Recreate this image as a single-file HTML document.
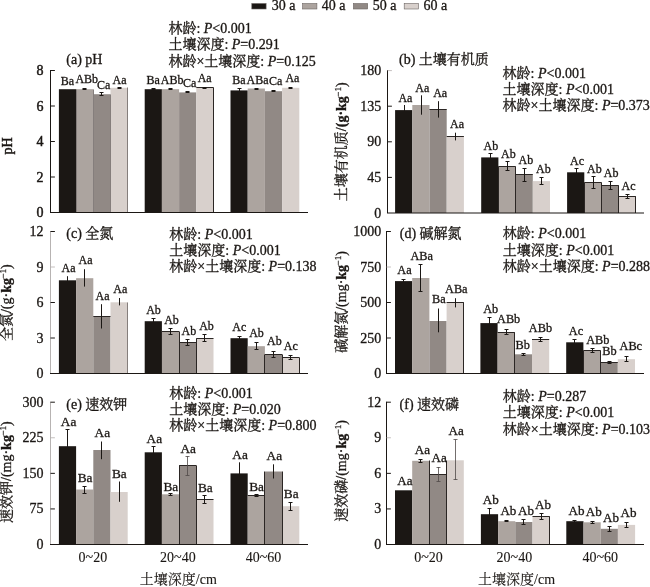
<!DOCTYPE html>
<html lang="zh"><head><meta charset="utf-8"><title>figure</title>
<style>html,body{margin:0;padding:0;background:#fff}svg{display:block}</style></head>
<body>
<svg width="650" height="587" viewBox="0 0 650 587" font-family='"Liberation Serif","Noto Serif CJK SC",serif' fill="#1b1714">
<rect width="650" height="587" fill="#fff" stroke="none"/>
<g stroke="#1b1714" stroke-width="0.3">
<rect x="251.8" y="3.5" width="14.3" height="5.5" fill="#1b1714" stroke="#6b6462" stroke-width="0.6"/>
<text x="271.8" y="9.9" font-size="14">30 a</text>
<rect x="302.6" y="3.5" width="14.3" height="5.5" fill="#aca49f" stroke="#6b6462" stroke-width="0.6"/>
<text x="321.8" y="9.9" font-size="14">40 a</text>
<rect x="353.4" y="3.5" width="14.3" height="5.5" fill="#918985" stroke="#6b6462" stroke-width="0.6"/>
<text x="372.8" y="9.9" font-size="14">50 a</text>
<rect x="404.2" y="3.5" width="14.3" height="5.5" fill="#d8d0cc" stroke="#6b6462" stroke-width="0.6"/>
<text x="423.6" y="9.9" font-size="14">60 a</text>
<g id="panel-a">
<rect x="58.9" y="89.2" width="17.2" height="123.3" fill="#1b1714" stroke="none"/>
<rect x="76.1" y="89.2" width="17.2" height="123.3" fill="#aca49f" stroke="none"/>
<rect x="93.3" y="94.2" width="17.2" height="118.3" fill="#918985" stroke="none"/>
<rect x="110.5" y="87.8" width="17.2" height="124.7" fill="#d8d0cc" stroke="none"/>
<rect x="144.7" y="89.2" width="17.2" height="123.3" fill="#1b1714" stroke="none"/>
<rect x="161.9" y="89.2" width="17.2" height="123.3" fill="#aca49f" stroke="none"/>
<rect x="179.1" y="92.4" width="17.2" height="120.1" fill="#918985" stroke="none"/>
<rect x="196.3" y="87.8" width="17.2" height="124.7" fill="#d8d0cc" stroke="none"/>
<rect x="230.5" y="90.4" width="17.2" height="122.1" fill="#1b1714" stroke="none"/>
<rect x="247.7" y="88.5" width="17.2" height="124" fill="#aca49f" stroke="none"/>
<rect x="264.9" y="91.2" width="17.2" height="121.3" fill="#918985" stroke="none"/>
<rect x="282.1" y="87.8" width="17.2" height="124.7" fill="#d8d0cc" stroke="none"/>
<path d="M196.3 87.5H213.5M213.5 87.5V212.5" stroke="#2b2624" stroke-width="1" fill="none"/>
<path d="M76.5 89.5V212.5M93.5 89.5V212.5M93.5 94.5V212.5M110.5 94.5V212.5M127.5 87.5V212.5" stroke="#857e7c" stroke-width="1" fill="none"/>
<path d="M84.5 88.4V89.4M82.5 88.5h4M82.5 89.5h4M101.5 92.2V95.8M99.5 92.5h4M99.5 95.5h4M119.5 87.3V88.3M117.5 87.5h4M117.5 88.5h4M153.5 88.5V89.5M151.5 88.5h4M151.5 89.5h4M170.5 88.5V89.5M168.5 88.5h4M168.5 89.5h4M187.5 91.6V92.8M185.5 91.5h4M185.5 92.5h4M204.5 87.3V88.3M202.5 87.5h4M202.5 88.5h4M239.5 88V92.5M237.5 88.5h4M237.5 92.5h4M256.5 88V89M254.5 88.5h4M254.5 89.5h4M273.5 90.6V91.8M271.5 90.5h4M271.5 91.5h4M290.5 87.3V88.3M288.5 87.5h4M288.5 88.5h4" stroke="#1b1714" stroke-width="1" fill="none"/>
<g font-size="12"><text x="60.8" y="85">Ba</text>
<text x="75.4" y="83.2">ABb</text>
<text x="96.9" y="88.8">Ca</text>
<text x="112.6" y="83.9">Aa</text>
<text x="146.6" y="84.2">Ba</text>
<text x="160.8" y="84.2">ABb</text>
<text x="183" y="86.5">Ca</text>
<text x="197.7" y="81.9">Aa</text>
<text x="232.3" y="83.5">Ba</text>
<text x="246.5" y="83.5">ABa</text>
<text x="268.9" y="84.7">Ca</text>
<text x="285.4" y="82.4">Aa</text></g>
<path d="M50.5 70V212.5" stroke="#1b1714" stroke-width="1" fill="none"/>
<path d="M50 212.5H308" stroke="#1b1714" stroke-width="1.2" fill="none"/>
<path d="M50.5 177h4.4M50.5 141.5h4.4M50.5 106h4.4M50.5 70.5h4.4" stroke="#1b1714" stroke-width="1" fill="none"/>
<g font-size="14" text-anchor="end" stroke-width="0.45"><text x="43.6" y="217">0</text><text x="43.6" y="181.5">2</text><text x="43.6" y="146">4</text><text x="43.6" y="110.5">6</text><text x="43.6" y="75">8</text></g>
<text x="66.3" y="64.3" font-size="14">(a) pH</text>
<text x="168.4" y="32.5" font-size="14">林龄: <tspan font-style="italic">P</tspan>&lt;0.001</text>
<text x="168.4" y="48.8" font-size="14">土壤深度: <tspan font-style="italic">P</tspan>=0.291</text>
<text x="168.4" y="65.7" font-size="14">林龄×土壤深度: <tspan font-style="italic">P</tspan>=0.125</text>
<text transform="translate(12.0 146) rotate(-90)" font-size="14" text-anchor="middle" stroke-width="0.45">pH</text>
</g>
<g id="panel-b">
<rect x="395.1" y="110.1" width="17.2" height="102.9" fill="#1b1714" stroke="none"/>
<rect x="412.3" y="105" width="17.2" height="108" fill="#aca49f" stroke="none"/>
<rect x="429.5" y="109.3" width="17.2" height="103.7" fill="#918985" stroke="none"/>
<rect x="446.7" y="136.2" width="17.2" height="76.8" fill="#d8d0cc" stroke="none"/>
<rect x="481.2" y="157.4" width="17.2" height="55.6" fill="#1b1714" stroke="none"/>
<rect x="498.4" y="166.5" width="17.2" height="46.5" fill="#aca49f" stroke="none"/>
<rect x="515.6" y="174.6" width="17.2" height="38.4" fill="#918985" stroke="none"/>
<rect x="532.8" y="181.1" width="17.2" height="31.9" fill="#d8d0cc" stroke="none"/>
<rect x="567.1" y="172.3" width="17.2" height="40.7" fill="#1b1714" stroke="none"/>
<rect x="584.3" y="182.6" width="17.2" height="30.4" fill="#aca49f" stroke="none"/>
<rect x="601.5" y="185.4" width="17.2" height="27.6" fill="#918985" stroke="none"/>
<rect x="618.7" y="196.5" width="17.2" height="16.5" fill="#d8d0cc" stroke="none"/>
<path d="M429.5 109.5H446.7M446.7 136.5H463.9M498.4 166.5H515.6M498.5 166.5V213M515.5 166.5V213M515.6 174.5H532.8M515.5 174.5V213M584.3 182.5H601.5M584.5 182.5V213M601.5 182.5V213M601.5 185.5H618.7M601.5 185.5V213M618.5 185.5V213M618.7 196.5H635.9M618.5 196.5V213M635.5 196.5V213" stroke="#2b2624" stroke-width="1" fill="none"/>
<path d="M404.5 105V115M421.5 95.3V114.7M438.5 101.2V117.6M455.5 132.7V140.4M490.5 153V161.8M488.5 153.5h4M488.5 161.5h4M507.5 161.5V170.8M505.5 161.5h4M505.5 170.5h4M524.5 168.2V181.5M522.5 168.5h4M522.5 181.5h4M541.5 177.7V184.6M539.5 177.5h4M539.5 184.5h4M576.5 168.2V176.4M574.5 168.5h4M574.5 176.5h4M593.5 176.2V188.5M591.5 176.5h4M591.5 188.5h4M610.5 181.5V189.5M608.5 181.5h4M608.5 189.5h4M627.5 194.6V198.5M625.5 194.5h4M625.5 198.5h4" stroke="#1b1714" stroke-width="1" fill="none"/>
<g font-size="12"><text x="398.4" y="101.6">Aa</text>
<text x="415.3" y="91.6">Aa</text>
<text x="433.2" y="96.8">Aa</text>
<text x="450" y="128">Aa</text>
<text x="483.5" y="149.7">Ab</text>
<text x="501" y="157.7">Ab</text>
<text x="518.5" y="163.5">Ab</text>
<text x="536" y="172.8">Ab</text>
<text x="570" y="164.6">Ac</text>
<text x="587" y="172.6">Ab</text>
<text x="603.8" y="177">Ab</text>
<text x="621.5" y="189.7">Ac</text></g>
<path d="M387.5 70.1V213" stroke="#1b1714" stroke-width="1" fill="none"/>
<path d="M387 213H644" stroke="#1b1714" stroke-width="1.2" fill="none"/>
<path d="M387.5 177.4h4.4M387.5 141.8h4.4M387.5 106.2h4.4" stroke="#1b1714" stroke-width="1" fill="none"/>
<path d="M387.5 70.6h4.4" stroke="#b5afad" stroke-width="0.8" fill="none"/>
<g font-size="14" text-anchor="end"><text x="381.3" y="217.5">0</text><text x="381.3" y="181.9">45</text><text x="381.3" y="146.3">90</text><text x="381.3" y="110.7">135</text><text x="381.3" y="75.1">180</text></g>
<text x="399" y="64.0" font-size="14">(b) 土壤有机质</text>
<text x="502.6" y="78.1" font-size="14">林龄: <tspan font-style="italic">P</tspan>&lt;0.001</text>
<text x="502.6" y="94.2" font-size="14">土壤深度: <tspan font-style="italic">P</tspan>&lt;0.001</text>
<text x="502.6" y="110.4" font-size="14">林龄×土壤深度: <tspan font-style="italic">P</tspan>=0.373</text>
<text transform="translate(346.2 141.8) rotate(-90)" font-size="14" text-anchor="middle">土壤有机质/<tspan font-weight="bold">(g·</tspan><tspan font-weight="bold">kg</tspan><tspan font-size="8.5" dy="-5">−1</tspan><tspan dy="5">)</tspan></text>
</g>
<g id="panel-c">
<rect x="58.9" y="280.3" width="17.2" height="93.2" fill="#1b1714" stroke="none"/>
<rect x="76.1" y="278.2" width="17.2" height="95.3" fill="#aca49f" stroke="none"/>
<rect x="93.3" y="316.5" width="17.2" height="57" fill="#918985" stroke="none"/>
<rect x="110.5" y="302.3" width="17.2" height="71.2" fill="#d8d0cc" stroke="none"/>
<rect x="144.7" y="321.2" width="17.2" height="52.3" fill="#1b1714" stroke="none"/>
<rect x="161.9" y="331.2" width="17.2" height="42.3" fill="#aca49f" stroke="none"/>
<rect x="179.1" y="342.6" width="17.2" height="30.9" fill="#918985" stroke="none"/>
<rect x="196.3" y="338.5" width="17.2" height="35" fill="#d8d0cc" stroke="none"/>
<rect x="230.5" y="338.2" width="17.2" height="35.3" fill="#1b1714" stroke="none"/>
<rect x="247.7" y="346.2" width="17.2" height="27.3" fill="#aca49f" stroke="none"/>
<rect x="264.9" y="354.3" width="17.2" height="19.2" fill="#918985" stroke="none"/>
<rect x="282.1" y="357.2" width="17.2" height="16.3" fill="#d8d0cc" stroke="none"/>
<path d="M93.3 316.5H110.5M161.9 331.5H179.1M161.5 331.5V373.5M179.5 331.5V373.5M179.1 342.5H196.3M179.5 342.5V373.5M196.5 342.5V373.5M196.3 338.5H213.5M196.5 338.5V373.5M264.9 354.5H282.1M264.5 354.5V373.5M282.5 354.5V373.5M282.1 357.5H299.3M282.5 357.5V373.5M299.5 357.5V373.5" stroke="#2b2624" stroke-width="1" fill="none"/>
<path d="M127.5 302.5V373.5" stroke="#857e7c" stroke-width="1" fill="none"/>
<path d="M67.5 276.2V284.2M84.5 269.2V286.6M101.5 304.2V328.5M119.5 298V305.4M153.5 318.5V324.6M151.5 318.5h4M151.5 324.5h4M170.5 328.5V334.6M168.5 328.5h4M168.5 334.5h4M187.5 339.5V345.4M185.5 339.5h4M185.5 345.5h4M204.5 334.6V341.5M202.5 334.5h4M202.5 341.5h4M239.5 336.2V340M237.5 336.5h4M237.5 340.5h4M256.5 342.3V349.7M254.5 342.5h4M254.5 349.5h4M273.5 351.2V357.7M271.5 351.5h4M271.5 357.5h4M290.5 355.4V359.5M288.5 355.5h4M288.5 359.5h4" stroke="#1b1714" stroke-width="1" fill="none"/>
<g font-size="12"><text x="61.5" y="271.5">Aa</text>
<text x="78.5" y="264.4">Aa</text>
<text x="95.5" y="299.5">Aa</text>
<text x="113.3" y="293.2">Aa</text>
<text x="146.2" y="313.8">Ab</text>
<text x="164.2" y="323.5">Ab</text>
<text x="181.5" y="334.6">Ab</text>
<text x="199.2" y="329.7">Ab</text>
<text x="232.3" y="330.8">Ac</text>
<text x="249.2" y="336.9">Ab</text>
<text x="267" y="345.4">Ab</text>
<text x="283.8" y="349.7">Ac</text></g>
<path d="M50.5 231V373.5" stroke="#a5a09e" stroke-width="0.8" fill="none"/>
<path d="M50 373.5H308" stroke="#1b1714" stroke-width="1.2" fill="none"/>
<path d="M50.5 338h4.4M50.5 302.5h4.4M50.5 231.5h4.4" stroke="#1b1714" stroke-width="1" fill="none"/>
<path d="M50.5 267h4.4" stroke="#b5afad" stroke-width="0.8" fill="none"/>
<g font-size="14" text-anchor="end"><text x="43.6" y="378">0</text><text x="43.6" y="342.5">3</text><text x="43.6" y="307">6</text><text x="43.6" y="271.5">9</text><text x="43.6" y="236">12</text></g>
<text x="66.3" y="237.8" font-size="14">(c) 全氮</text>
<text x="169.3" y="238.6" font-size="14">林龄: <tspan font-style="italic">P</tspan>&lt;0.001</text>
<text x="169.3" y="254.7" font-size="14">土壤深度: <tspan font-style="italic">P</tspan>&lt;0.001</text>
<text x="169.3" y="270.7" font-size="14">林龄×土壤深度: <tspan font-style="italic">P</tspan>=0.138</text>
<text transform="translate(10.8 302.7) rotate(-90)" font-size="14" text-anchor="middle">全氮/<tspan>(g·</tspan><tspan font-weight="bold">kg</tspan><tspan font-size="8.5" dy="-5">−1</tspan><tspan dy="5">)</tspan></text>
</g>
<g id="panel-d">
<rect x="395" y="281.1" width="17.2" height="92.4" fill="#1b1714" stroke="none"/>
<rect x="412.2" y="278" width="17.2" height="95.5" fill="#aca49f" stroke="none"/>
<rect x="429.4" y="321" width="17.2" height="52.5" fill="#918985" stroke="none"/>
<rect x="446.6" y="302.3" width="17.2" height="71.2" fill="#d8d0cc" stroke="none"/>
<rect x="480.4" y="323.1" width="17.2" height="50.4" fill="#1b1714" stroke="none"/>
<rect x="497.6" y="332.3" width="17.2" height="41.2" fill="#aca49f" stroke="none"/>
<rect x="514.8" y="354.3" width="17.2" height="19.2" fill="#918985" stroke="none"/>
<rect x="532" y="339.5" width="17.2" height="34" fill="#d8d0cc" stroke="none"/>
<rect x="566.2" y="342.3" width="17.2" height="31.2" fill="#1b1714" stroke="none"/>
<rect x="583.4" y="350.8" width="17.2" height="22.7" fill="#aca49f" stroke="none"/>
<rect x="600.6" y="362.6" width="17.2" height="10.9" fill="#918985" stroke="none"/>
<rect x="617.8" y="359.2" width="17.2" height="14.3" fill="#d8d0cc" stroke="none"/>
<path d="M446.6 302.5H463.8M463.5 302.5V373.5M497.6 332.5H514.8M514.5 332.5V373.5M532 339.5H549.2M583.4 350.5H600.6M583.5 350.5V373.5M600.5 350.5V373.5M600.6 362.5H617.8M600.5 362.5V373.5" stroke="#2b2624" stroke-width="1" fill="none"/>
<path d="M403.5 279.2V283M401.5 279.5h4M401.5 283.5h4M420.5 264.3V291.5M418.5 264.5h4M418.5 291.5h4M438.5 308.5V332.3M455.5 298.2V307.4M489.5 317.4V328.8M487.5 317.5h4M487.5 328.5h4M506.5 329.2V334.6M504.5 329.5h4M504.5 334.5h4M523.5 353V355.8M521.5 353.5h4M521.5 355.5h4M540.5 337.4V341.5M538.5 337.5h4M538.5 341.5h4M574.5 339.5V345M572.5 339.5h4M572.5 345.5h4M592.5 348.5V352.3M590.5 348.5h4M590.5 352.5h4M609.5 361.8V363.4M607.5 361.5h4M607.5 363.5h4M626.5 356.2V361.5M624.5 356.5h4M624.5 361.5h4" stroke="#1b1714" stroke-width="1" fill="none"/>
<g font-size="12.3"><text x="397.3" y="274.2">Aa</text>
<text x="410.4" y="259.7">ABa</text>
<text x="432" y="303.4">Ba</text>
<text x="445" y="292.6">ABa</text>
<text x="483.2" y="312.8">Ab</text>
<text x="497" y="322.8">ABb</text>
<text x="515.5" y="348.5">Bb</text>
<text x="528.8" y="332.3">ABb</text>
<text x="568.8" y="334.6">Ac</text>
<text x="586.2" y="343.5">ABb</text>
<text x="602.3" y="354.6">Bb</text>
<text x="619.5" y="350.3">ABc</text></g>
<path d="M386.5 231V373.5" stroke="#1b1714" stroke-width="1" fill="none"/>
<path d="M386 373.5H644" stroke="#1b1714" stroke-width="1.2" fill="none"/>
<path d="M386.5 338h4.4M386.5 302.5h4.4M386.5 231.5h4.4" stroke="#1b1714" stroke-width="1" fill="none"/>
<path d="M386.5 267h4.4" stroke="#b5afad" stroke-width="0.8" fill="none"/>
<g font-size="14" text-anchor="end"><text x="381.3" y="378">0</text><text x="381.3" y="342.5">250</text><text x="381.3" y="307">500</text><text x="381.3" y="271.5">750</text><text x="381.3" y="236">1000</text></g>
<text x="399.8" y="237.5" font-size="14">(d) 碱解氮</text>
<text x="502.8" y="238.1" font-size="14">林龄: <tspan font-style="italic">P</tspan>&lt;0.001</text>
<text x="502.8" y="254.6" font-size="14">土壤深度: <tspan font-style="italic">P</tspan>&lt;0.001</text>
<text x="502.8" y="270.9" font-size="14">林龄×土壤深度: <tspan font-style="italic">P</tspan>=0.288</text>
<text transform="translate(346.2 302) rotate(-90)" font-size="14" text-anchor="middle">碱解氮/<tspan>(mg·</tspan><tspan font-weight="bold">kg</tspan><tspan font-size="8.5" dy="-5">−1</tspan><tspan dy="5">)</tspan></text>
</g>
<g id="panel-e">
<rect x="58.9" y="446.2" width="17.2" height="98.3" fill="#1b1714" stroke="none"/>
<rect x="76.1" y="489.5" width="17.2" height="55" fill="#aca49f" stroke="none"/>
<rect x="93.3" y="450" width="17.2" height="94.5" fill="#918985" stroke="none"/>
<rect x="110.5" y="492" width="17.2" height="52.5" fill="#d8d0cc" stroke="none"/>
<rect x="144.7" y="452.3" width="17.2" height="92.2" fill="#1b1714" stroke="none"/>
<rect x="161.9" y="494.3" width="17.2" height="50.2" fill="#aca49f" stroke="none"/>
<rect x="179.1" y="465.8" width="17.2" height="78.7" fill="#918985" stroke="none"/>
<rect x="196.3" y="499.5" width="17.2" height="45" fill="#d8d0cc" stroke="none"/>
<rect x="230.5" y="473.4" width="17.2" height="71.1" fill="#1b1714" stroke="none"/>
<rect x="247.7" y="495.4" width="17.2" height="49.1" fill="#aca49f" stroke="none"/>
<rect x="264.9" y="471.5" width="17.2" height="73" fill="#918985" stroke="none"/>
<rect x="282.1" y="506.2" width="17.2" height="38.3" fill="#d8d0cc" stroke="none"/>
<path d="M179.1 465.5H196.3M179.5 465.5V544.5M196.5 465.5V544.5M196.3 499.5H213.5M247.7 495.5H264.9M264.5 471.5V544.5M282.5 471.5V544.5" stroke="#2b2624" stroke-width="1" fill="none"/>
<path d="M67.5 429.2V463M65.5 429.5h4M65.5 463.5h4M84.5 486.2V493.5M82.5 486.5h4M82.5 493.5h4M101.5 441.5V459.2M119.5 481.5V501.8M153.5 446.5V458M151.5 446.5h4M151.5 458.5h4M170.5 493.4V495.7M168.5 493.5h4M168.5 495.5h4M204.5 495.4V503.4M202.5 495.5h4M202.5 503.5h4M239.5 462.3V484.5M256.5 494.6V496.2M254.5 494.5h4M254.5 496.5h4M273.5 464.3V478.5M290.5 502.3V510M288.5 502.5h4M288.5 510.5h4" stroke="#1b1714" stroke-width="1" fill="none"/>
<path d="M187.5 456.2V475.4M185.5 456.5h4M185.5 475.5h4" stroke="#4f4947" stroke-width="0.8" fill="none"/>
<g font-size="13.3"><text x="60.8" y="425.7">Aa</text>
<text x="77.7" y="482.3">Ba</text>
<text x="94.6" y="436.9">Aa</text>
<text x="112" y="478.2">Ba</text>
<text x="146.6" y="442.8">Aa</text>
<text x="163.5" y="490.5">Ba</text>
<text x="180.5" y="452.6">Aa</text>
<text x="198" y="491.5">Ba</text>
<text x="232.3" y="459.2">Aa</text>
<text x="249.2" y="490.5">Ba</text>
<text x="266.6" y="460.3">Aa</text>
<text x="283.8" y="498.2">Ba</text></g>
<path d="M50.5 401.7V544.5" stroke="#a5a09e" stroke-width="0.8" fill="none"/>
<path d="M50 544.5H308" stroke="#1b1714" stroke-width="1.2" fill="none"/>
<path d="M50.5 508.93h4.4M50.5 473.35h4.4M50.5 402.2h4.4" stroke="#1b1714" stroke-width="1" fill="none"/>
<path d="M50.5 437.77h4.4" stroke="#b5afad" stroke-width="0.8" fill="none"/>
<g font-size="14" text-anchor="end"><text x="43.6" y="549">0</text><text x="43.6" y="513.42">75</text><text x="43.6" y="477.85">150</text><text x="43.6" y="442.27">225</text><text x="43.6" y="406.7">300</text></g>
<text x="66.3" y="409.2" font-size="14">(e) 速效钾</text>
<text x="169.3" y="397.5" font-size="14">林龄: <tspan font-style="italic">P</tspan>&lt;0.001</text>
<text x="169.3" y="414.1" font-size="14">土壤深度: <tspan font-style="italic">P</tspan>=0.020</text>
<text x="169.3" y="430.2" font-size="14">林龄×土壤深度: <tspan font-style="italic">P</tspan>=0.800</text>
<text transform="translate(10.8 472.2) rotate(-90)" font-size="14" text-anchor="middle">速效钾/<tspan>(mg·</tspan><tspan font-weight="bold">kg</tspan><tspan font-size="8.5" dy="-5">−1</tspan><tspan dy="5">)</tspan></text>
</g>
<g id="panel-f">
<rect x="395" y="490.3" width="17.2" height="54.2" fill="#1b1714" stroke="none"/>
<rect x="412.2" y="460.8" width="17.2" height="83.7" fill="#aca49f" stroke="none"/>
<rect x="429.4" y="474.5" width="17.2" height="70" fill="#918985" stroke="none"/>
<rect x="446.6" y="460.3" width="17.2" height="84.2" fill="#d8d0cc" stroke="none"/>
<rect x="480.9" y="514.2" width="17.2" height="30.3" fill="#1b1714" stroke="none"/>
<rect x="498.1" y="521.2" width="17.2" height="23.3" fill="#aca49f" stroke="none"/>
<rect x="515.3" y="522" width="17.2" height="22.5" fill="#918985" stroke="none"/>
<rect x="532.5" y="516.6" width="17.2" height="27.9" fill="#d8d0cc" stroke="none"/>
<rect x="566.3" y="521.2" width="17.2" height="23.3" fill="#1b1714" stroke="none"/>
<rect x="583.5" y="522.3" width="17.2" height="22.2" fill="#aca49f" stroke="none"/>
<rect x="600.7" y="528.8" width="17.2" height="15.7" fill="#918985" stroke="none"/>
<rect x="617.9" y="524.9" width="17.2" height="19.6" fill="#d8d0cc" stroke="none"/>
<path d="M429.4 474.5H446.6M429.5 460.5V544.5M446.5 460.5V544.5M532.5 516.5H549.7M549.5 516.5V544.5" stroke="#2b2624" stroke-width="1" fill="none"/>
<path d="M420.5 459.2V462.3M418.5 459.5h4M418.5 462.5h4M489.5 508.5V520M487.5 508.5h4M487.5 520.5h4M506.5 520.6V521.4M504.5 520.5h4M504.5 521.5h4M523.5 519.2V524.3M521.5 519.5h4M521.5 524.5h4M541.5 513.5V519.7M539.5 513.5h4M539.5 519.5h4M574.5 520.5V522M572.5 520.5h4M572.5 522.5h4M592.5 521.3V523.3M590.5 521.5h4M590.5 523.5h4M609.5 526.5V531.5M607.5 526.5h4M607.5 531.5h4M626.5 522.3V527.4M624.5 522.5h4M624.5 527.5h4" stroke="#1b1714" stroke-width="1" fill="none"/>
<path d="M438.5 467V481.5M436.5 467.5h4M436.5 481.5h4M455.5 439.5V479.8M453.5 439.5h4M453.5 479.5h4" stroke="#4f4947" stroke-width="0.8" fill="none"/>
<g font-size="13.1"><text x="397.3" y="485.4">Aa</text>
<text x="414.7" y="454.3">Aa</text>
<text x="431.6" y="462.3">Aa</text>
<text x="448.5" y="434.6">Aa</text>
<text x="482.7" y="504.3">Ab</text>
<text x="500.4" y="515.4">Ab</text>
<text x="518" y="514.6">Ab</text>
<text x="535" y="508.9">Ab</text>
<text x="568.5" y="515.4">Ab</text>
<text x="585.7" y="515.8">Ab</text>
<text x="603" y="521.5">Ab</text>
<text x="620.5" y="517.2">Ab</text></g>
<path d="M386.5 401.7V544.5" stroke="#1b1714" stroke-width="1" fill="none"/>
<path d="M386 544.5H644" stroke="#1b1714" stroke-width="1.2" fill="none"/>
<path d="M386.5 508.93h4.4M386.5 473.35h4.4M386.5 402.2h4.4" stroke="#1b1714" stroke-width="1" fill="none"/>
<path d="M386.5 437.77h4.4" stroke="#b5afad" stroke-width="0.8" fill="none"/>
<g font-size="14" text-anchor="end"><text x="381.3" y="549">0</text><text x="381.3" y="513.42">3</text><text x="381.3" y="477.85">6</text><text x="381.3" y="442.27">9</text><text x="381.3" y="406.7">12</text></g>
<text x="399.6" y="409.2" font-size="14">(f) 速效磷</text>
<text x="502.8" y="401.1" font-size="14">林龄: <tspan font-style="italic">P</tspan>=0.287</text>
<text x="502.8" y="417.2" font-size="14">土壤深度: <tspan font-style="italic">P</tspan>&lt;0.001</text>
<text x="502.8" y="433.5" font-size="14">林龄×土壤深度: <tspan font-style="italic">P</tspan>=0.103</text>
<text transform="translate(346.2 470.9) rotate(-90)" font-size="14" text-anchor="middle">速效磷/<tspan>(mg·</tspan><tspan font-weight="bold">kg</tspan><tspan font-size="8.5" dy="-5">−1</tspan><tspan dy="5">)</tspan></text>
</g>
<g font-size="14" text-anchor="middle" stroke-width="0.1">
<text x="92.9" y="561.8">0~20</text>
<text x="177.9" y="561.8">20~40</text>
<text x="263.6" y="561.8">40~60</text>
<text x="428.5" y="561.8">0~20</text>
<text x="514.4" y="561.8">20~40</text>
<text x="600.3" y="561.8">40~60</text>
<text x="178.3" y="584">土壤深度/cm</text>
<text x="516.6" y="584">土壤深度/cm</text>
</g></g></svg>
</body></html>
